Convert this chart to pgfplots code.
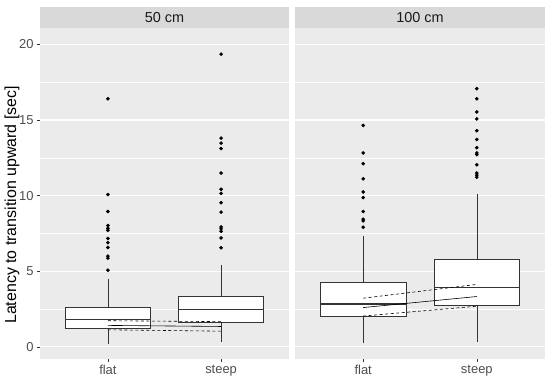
\documentclass[border=0pt]{standalone}
\usepackage{pgfplots}
\pgfplotsset{compat=1.18}
\usepgfplotslibrary{statistics}
\usepackage{fontspec}
\setmainfont{Liberation Sans}
\definecolor{panelbg}{HTML}{EBEBEB}
\definecolor{stripbg}{HTML}{D9D9D9}
\definecolor{gtwenty}{HTML}{333333}
\definecolor{gthirty}{HTML}{4D4D4D}
\definecolor{gten}{HTML}{1A1A1A}
\pgfplotsset{
  facet/.style={
    scale only axis, height=331bp,
    xmin=0.4, xmax=2.6, ymin=-0.8, ymax=21.08,
    axis background/.style={fill=panelbg},
    axis line style={draw=none},
    xtick={1,2}, xticklabels={flat,steep},
    ytick={0,5,10,15,20}, minor ytick={2.5,7.5,12.5,17.5},
    ymajorgrids, yminorgrids,
    major grid style={white, line width=1.1bp},
    minor grid style={white, line width=0.55bp},
    tick align=outside, major tick length=3bp, minor tick length=0pt,
    tick style={gtwenty, line width=0.6bp},
    xtick pos=left, ytick pos=left,
    ticklabel style={font=\fontsize{13}{15}\selectfont, text=gthirty},
    /pgf/number format/assume math mode=true,
    boxplot/draw direction=y,
  },
  bx/.style={gtwenty, line width=0.6bp, mark=*, mark size=1.5bp,
    mark options={draw=black, fill=black}},
  dsh/.style={black, line width=0.6bp, dash pattern=on 3bp off 2.5bp},
}
\begin{document}
\begin{tikzpicture}
\useasboundingbox (0,0) rectangle (550bp,383bp);
% ---- 50 cm ----
\begin{axis}[facet, width=249bp, at={(40bp,24bp)}, anchor=south west]
\addplot[bx, boxplot prepared={draw direction=y, draw position=1, box extend=0.75, whisker extend=0,
  lower whisker=0.17, lower quartile=1.20, median=1.82, upper quartile=2.60, upper whisker=4.47,
  every box/.style={draw=gtwenty, fill=white}, every median/.style={line width=1.5bp}}]
  coordinates {(0,16.4) (0,10.07) (0,8.95) (0,8.02) (0,7.84) (0,7.71) (0,7.17) (0,6.89) (0,6.57) (0,6.0) (0,5.87) (0,5.07)};
\addplot[bx, boxplot prepared={draw direction=y, draw position=2, box extend=0.75, whisker extend=0,
  lower whisker=0.35, lower quartile=1.60, median=2.47, upper quartile=3.33, upper whisker=5.42,
  every box/.style={draw=gtwenty, fill=white}, every median/.style={line width=1.5bp}}]
  coordinates {(0,19.35) (0,13.8) (0,13.47) (0,13.11) (0,11.49) (0,10.42) (0,10.15) (0,9.53) (0,8.91) (0,7.93) (0,7.8) (0,7.64) (0,7.2) (0,6.55)};
\addplot[dsh] coordinates {(1,1.73) (2,1.67)};
\addplot[black, line width=0.6bp] coordinates {(1,1.42) (2,1.35)};
\addplot[dsh] coordinates {(1,1.13) (2,1.04)};
\end{axis}
% ---- 100 cm ----
\begin{axis}[facet, width=250bp, at={(295bp,24bp)}, anchor=south west,
  yticklabels={}, ytick style={draw=none}]
\addplot[bx, boxplot prepared={draw direction=y, draw position=1, box extend=0.75, whisker extend=0,
  lower whisker=0.29, lower quartile=2.02, median=2.82, upper quartile=4.27, upper whisker=7.35,
  every box/.style={draw=gtwenty, fill=white}, every median/.style={line width=1.5bp}}]
  coordinates {(0,14.64) (0,12.82) (0,12.11) (0,11.11) (0,10.24) (0,9.87) (0,8.95) (0,8.44) (0,8.33) (0,7.91)};
\addplot[bx, boxplot prepared={draw direction=y, draw position=2, box extend=0.75, whisker extend=0,
  lower whisker=0.33, lower quartile=2.73, median=3.91, upper quartile=5.80, upper whisker=10.13,
  every box/.style={draw=gtwenty, fill=white}, every median/.style={line width=1.5bp}}]
  coordinates {(0,17.07) (0,16.4) (0,15.53) (0,15.07) (0,14.29) (0,13.71) (0,13.17) (0,12.82) (0,12.71) (0,12.04) (0,11.49) (0,11.35) (0,11.22)};
\addplot[dsh] coordinates {(1,3.22) (2,4.13)};
\addplot[black, line width=0.6bp] coordinates {(1,2.60) (2,3.33)};
\addplot[dsh] coordinates {(1,2.04) (2,2.69)};
\end{axis}
% strips
\fill[stripbg] (40bp,355bp) rectangle (289bp,376bp);
\node[text=gten, font=\fontsize{14.5}{16}\selectfont] at (164.5bp,365.5bp) {50 cm};
\fill[stripbg] (295bp,355bp) rectangle (545bp,376bp);
\node[text=gten, font=\fontsize{14.5}{16}\selectfont] at (420bp,365.5bp) {100 cm};
% y title
\node[rotate=90, font=\fontsize{16}{18}\selectfont] at (12bp,178bp) {Latency to transition upward [sec]};
\end{tikzpicture}
\end{document}
